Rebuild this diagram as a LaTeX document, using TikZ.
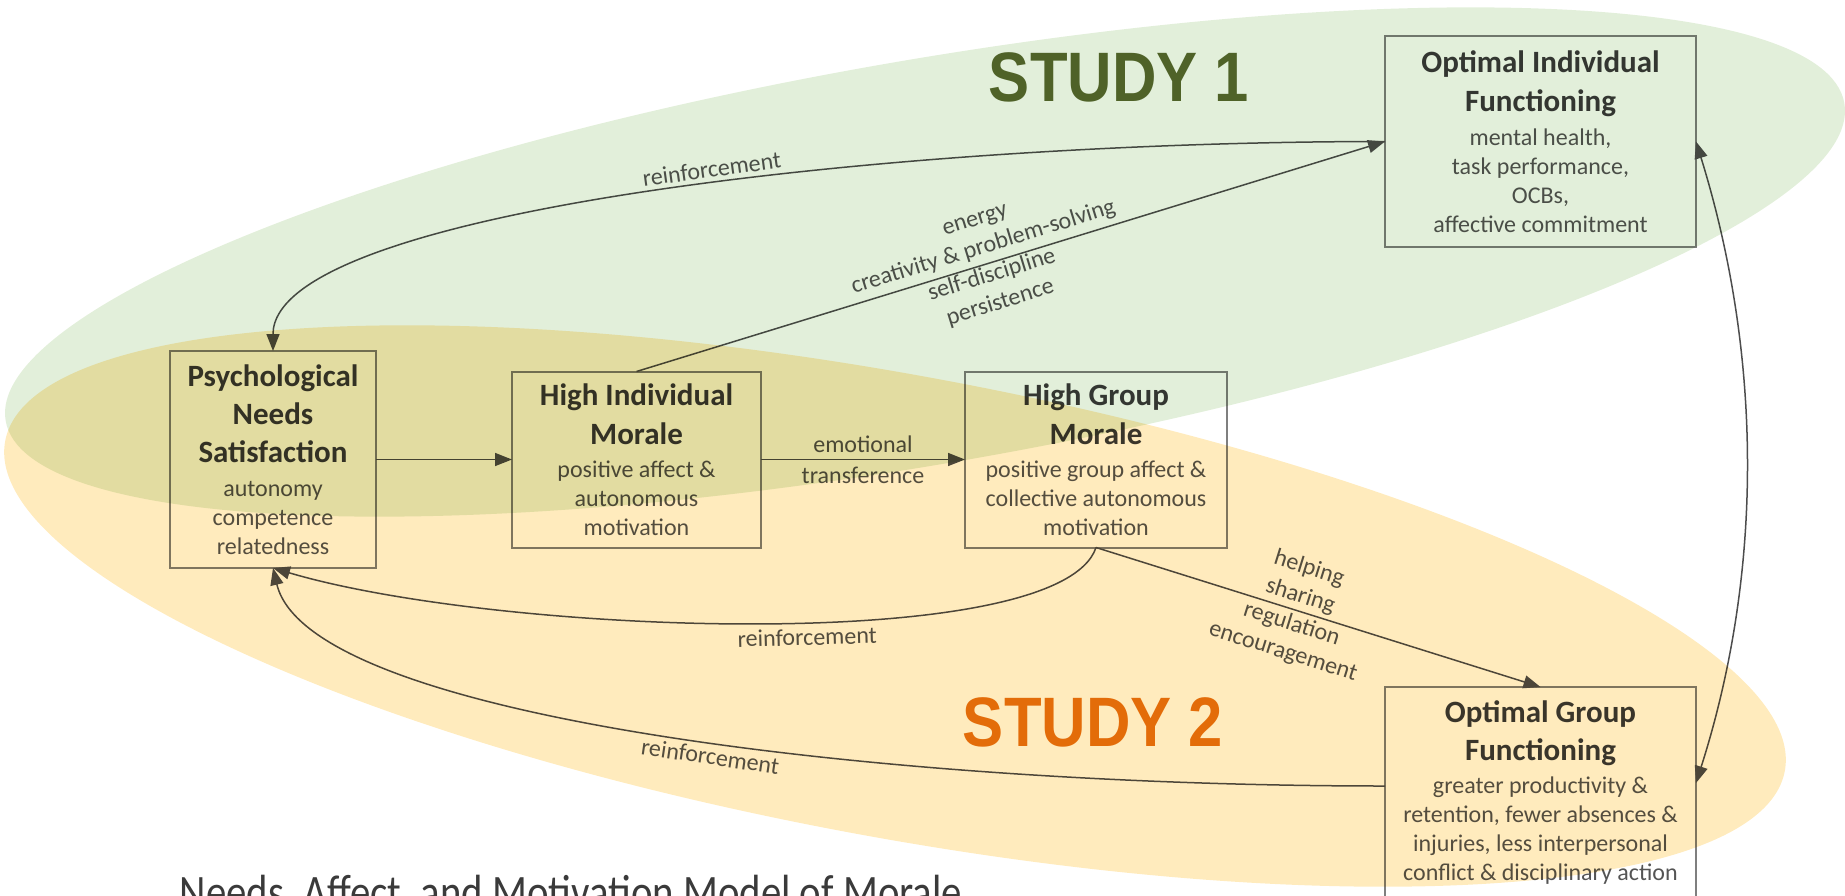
\documentclass[tikz,border=0pt]{standalone}
\usepackage{fontspec}
\setmainfont{Carlito}
\newfontfamily\studyfont{Liberation Sans}
\usepackage{graphicx}
\usetikzlibrary{arrows.meta,positioning}

\definecolor{studygreen}{HTML}{E2EFDA}
\definecolor{studyyellow}{HTML}{FFEBBD}
\definecolor{oneolive}{HTML}{4F6228}
\definecolor{twoorange}{HTML}{E36C09}
\definecolor{boxgray}{HTML}{7F7F7F}
\definecolor{linegray}{HTML}{4D4D4D}
\definecolor{titlegray}{HTML}{3A3A3A}
\definecolor{bodygray}{HTML}{545454}

\newcommand{\boxhead}[1]{{\fontsize{31}{37}\selectfont\bfseries\color{titlegray}#1}}
\setlength{\lineskiplimit}{-100pt}

\begin{document}
\begin{tikzpicture}[
  x=1pt, y=1pt,
  box/.style={draw=boxgray,line width=2pt,outer sep=0pt,inner sep=0pt,
              text=bodygray,font=\fontsize{24}{29}\selectfont},
  tag/.style={text=bodygray,font=\fontsize{24}{29}\selectfont},
  study/.style={font=\studyfont\fontsize{70}{80}\selectfont\bfseries},
  flow/.style={->,>={Triangle[length=17pt,width=13pt]},line width=1.5pt,draw=linegray},
  every node/.style={align=center}]

  \useasboundingbox (0,0) rectangle (1845,-895);

  % Position the boxes, the middle row relative to one another
  \node[box,minimum width=206pt,minimum height=217pt] (pns) at (273,-459.5)
    {\boxhead{Psychological}\\[9pt]\boxhead{Needs}\\[9pt]\boxhead{Satisfaction}\\[5pt]autonomy\\competence\\relatedness};
  \node[box,minimum width=249pt,minimum height=176pt,right=136pt of pns] (him)
    {\boxhead{High Individual}\\[10pt]\boxhead{Morale}\\[4pt]positive affect \&\\autonomous\\motivation};
  \node[box,minimum width=262pt,minimum height=176pt,right=204pt of him] (hgm)
    {\boxhead{High Group}\\[10pt]\boxhead{Morale}\\[4pt]positive group affect \&\\collective autonomous\\motivation};
  \node[box,minimum width=311pt,minimum height=211pt] (oif) at (1540.5,-141.5)
    {\boxhead{Optimal Individual}\\[10pt]\boxhead{Functioning}\\[5pt]mental health,\\task performance,\\OCBs,\\affective commitment};
  \node[box,minimum width=311pt,minimum height=212pt,below=440pt of oif] (ogf)
    {\boxhead{Optimal Group}\\[9pt]\boxhead{Functioning}\\[4pt]greater productivity \&\\retention, fewer absences \&\\injuries, less interpersonal\\conflict \& disciplinary action};

  % Draw the arrows between the nodes and label them.
  \draw[flow] (pns) -- (him);
  \draw[flow] (him) -- node[tag,midway] {emotional\\[2pt]transference} (hgm);
  \draw[flow] (him.north) -- (oif.west)
    node[tag,pos=0.47,sloped] {energy\\creativity \& problem-solving\\self-discipline\\persistence};
  \draw[flow] (hgm.south) -- (ogf.north)
    node[tag,pos=0.45,sloped] {helping\\sharing\\regulation\\encouragement};
  \draw[flow] (oif.west) .. controls +(-486,0) and +(0,141) .. (pns.north)
    node[tag,pos=0.45,sloped,above=2pt] {reinforcement};
  \draw[flow] (hgm.south) .. controls +(-36,-108) and +(226,-67) .. (pns.south)
    node[tag,pos=0.45,sloped,below=2pt] {reinforcement};
  \draw[flow] ([yshift=7pt]ogf.west) .. controls +(-486,0) and +(36,-152) .. (pns.south)
    node[tag,pos=0.46,sloped,below=2pt] {reinforcement};
  \draw[flow,<->] (oif.east) .. controls +(66,-213) and +(68,213) .. ([yshift=10pt]ogf.east);

  % The two studies are shaded ellipses laid over the model
  \begin{scope}[blend mode=multiply]
    \fill[studygreen,rotate around={9.8:(925,-262)}] (925,-262) ellipse [x radius=933,y radius=202];
    \fill[studyyellow,rotate around={-10.5:(895,-606)}] (895,-606) ellipse [x radius=905,y radius=231];
  \end{scope}

  \node[study,text=oneolive] (study one) at (1119,-77) {\scalebox{0.88}[1]{STUDY 1}};
  \node[study,text=twoorange] (study two) at (1093,-722) {\scalebox{0.88}[1]{STUDY 2}};

  \node[anchor=base,text=titlegray,font=\fontsize{48}{56}\selectfont] (caption) at (571,-908)
    {\scalebox{0.85}[1]{Needs, Affect, and Motivation Model of Morale}};
\end{tikzpicture}
\end{document}
